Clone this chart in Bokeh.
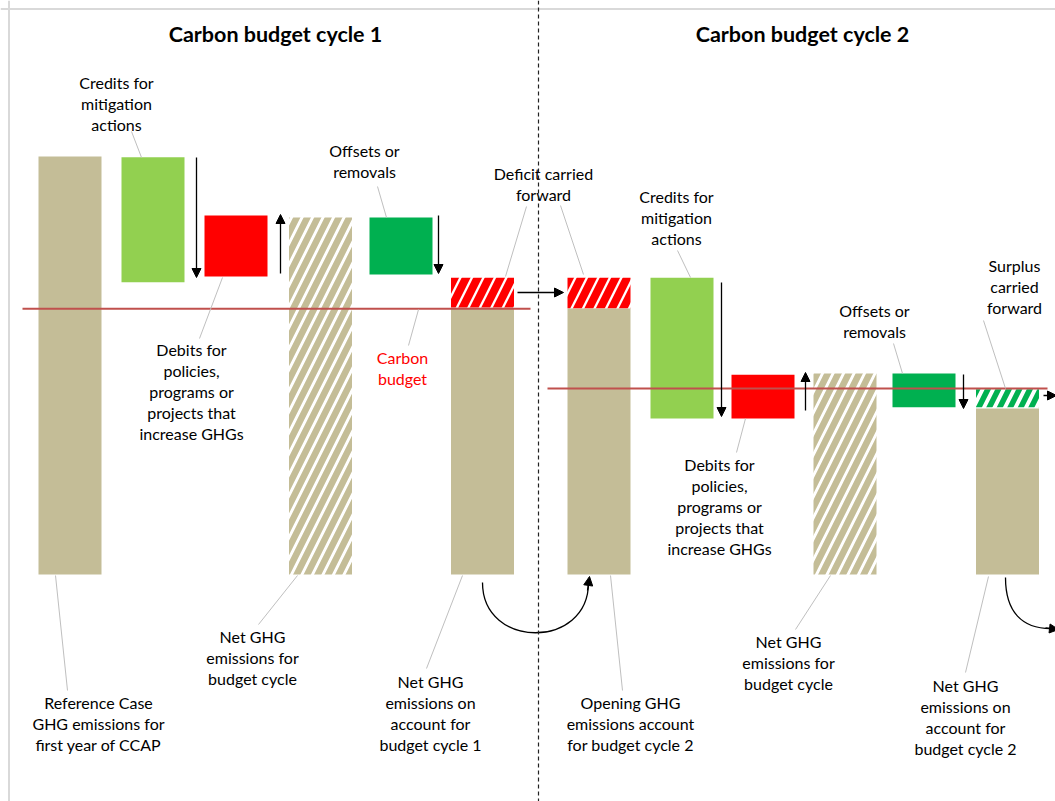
from bokeh.plotting import figure
from bokeh.models import Range1d, Span, Arrow, NormalHead
from bokeh.core.properties import value
from bokeh.embed import file_html
from bokeh.resources import INLINE

# ---------------- data (emissions index, reference case = 100) ----------------
bar_names = ["Reference Case", "Credits 1", "Debits 1", "Net GHG 1", "Offsets 1", "Account 1",
             "Opening 2", "Credits 2", "Debits 2", "Net GHG 2", "Offsets 2", "Account 2"]
bar_kinds = ["reference", "credit", "debit", "net", "offset", "account",
             "account", "credit", "debit", "net", "offset", "account"]
bar_bottoms = [0.0, 69.9, 71.3, 0.0, 71.8, 0.0, 0.0, 37.3, 37.3, 0.0, 40.0, 0.0]
bar_tops = [100.0, 99.8, 85.9, 85.4, 85.4, 63.9, 63.7, 71.0, 47.8, 48.1, 48.1, 39.7]

carry_names = ["Deficit carried (cycle 1)", "Deficit carried (cycle 2)", "Surplus carried (cycle 2)"]
carry_slots = [5, 6, 11]
carry_kinds = ["deficit", "deficit", "surplus"]
carry_bottoms = [63.9, 63.7, 40.0]
carry_tops = [71.0, 71.0, 44.3]

budget_values = [63.6, 44.5]
cycle_titles = ["Carbon budget cycle 1", "Carbon budget cycle 2"]

label_texts = [
    ["Credits for", "mitigation", "actions"],
    ["Offsets or", "removals"],
    ["Deficit carried", "forward"],
    ["Credits for", "mitigation", "actions"],
    ["Surplus", "carried", "forward"],
    ["Offsets or", "removals"],
    ["Debits for", "policies,", "programs or", "projects that", "increase GHGs"],
    ["Carbon", "budget"],
    ["Debits for", "policies,", "programs or", "projects that", "increase GHGs"],
    ["Net GHG", "emissions for", "budget cycle"],
    ["Net GHG", "emissions for", "budget cycle"],
    ["Net GHG", "emissions on", "account for", "budget cycle 1"],
    ["Reference Case", "GHG emissions for", "first year of CCAP"],
    ["Opening GHG", "emissions account", "for budget cycle 2"],
    ["Net GHG", "emissions on", "account for", "budget cycle 2"],
]

# ---------------- layout ----------------
PX_PER_UNIT = 4.18
BASE_PX = 574.0
W, H = 1055, 801


def Y(py):
    """page-pixel row -> value units (layout helper for annotations)"""
    return (BASE_PX - py) / PX_PER_UNIT


slot_x = [69.5, 152.5, 235.5, 320, 400.5, 482, 598.5, 681.5, 762.5, 844.5, 923.5, 1007]
BAR_W = 63

label_pos = [(116, 82), (364, 150), (543, 173), (676, 196), (1014, 265), (874, 310),
             (191, 349), (402, 357), (719, 464), (252, 636), (788, 641), (430, 681),
             (98, 702), (630, 702), (965, 685)]
label_colors = ["#000000"] * 7 + ["#FF0000"] + ["#000000"] * 7
LINE_H = 21

leaders = [(131, 131, 141, 157), (222, 277, 199, 338), (377, 186, 386, 217),
           (526, 206, 505, 276), (560, 205, 583, 274), (418, 309, 408, 345),
           (297, 575, 258, 624), (55, 575, 67, 690), (462, 575, 426, 668),
           (610, 575, 622, 690), (677, 250, 690, 277), (745, 418, 736, 452),
           (830, 575, 795, 629), (893, 343, 902, 373), (983, 320, 1005, 388),
           (988, 576, 965, 672)]

arrows = [(196, 157, 196, 277), (280, 273, 280, 214), (438, 215, 438, 273),
          (517, 292, 563, 292), (721, 282, 721, 416), (805, 410, 805, 372),
          (963, 374, 963, 408), (1043, 395, 1056, 395)]

budget_extent = [(22, 530), (547, 1047)]
title_x = [275, 802]

FILL = {"reference": "#C4BD97", "account": "#C4BD97", "credit": "#92D050",
        "debit": "#FF0000", "offset": "#00B050"}
HATCH = {"net": ("#C4BD97", 21, 6.5), "deficit": ("#FF0000", 23, 8), "surplus": ("#00B050", 21, 5.5)}
FONT = "Lato"

p = figure(width=W, height=H, output_backend="svg", toolbar_location=None,
           x_range=Range1d(0, W), y_range=Range1d(Y(H), Y(0)),
           min_border=0, min_border_left=0, min_border_right=0,
           min_border_top=0, min_border_bottom=0)
p.axis.visible = False
p.grid.visible = False
p.outline_line_color = None
p.background_fill_color = "white"
p.border_fill_color = "white"

# frame border (left & top)
p.add_layout(Span(location=8.5, dimension="height", line_color="#d9d9d9", line_width=2))
p.add_layout(Span(location=Y(8.5), dimension="width", line_color="#d9d9d9", line_width=2))
# cycle divider
p.add_layout(Span(location=538, dimension="height", line_color="#222222", line_width=1.2,
                  line_dash="4 3"))

# solid bars
for kind, col in FILL.items():
    idx = [i for i, k in enumerate(bar_kinds) if k == kind]
    if not idx:
        continue
    p.vbar(x=[slot_x[i] for i in idx], width=BAR_W,
           bottom=[bar_bottoms[i] for i in idx], top=[bar_tops[i] for i in idx],
           fill_color=col, line_color=None)

# hatched net bars
idx = [i for i, k in enumerate(bar_kinds) if k == "net"]
hc, hs, hw = HATCH["net"]
p.vbar(x=[slot_x[i] for i in idx], width=BAR_W,
       bottom=[bar_bottoms[i] for i in idx], top=[bar_tops[i] for i in idx],
       fill_color="white", line_color=None, hatch_pattern="right_diagonal_line",
       hatch_color=hc, hatch_scale=hs, hatch_weight=hw)

# carried-forward hatched boxes
for j, kind in enumerate(carry_kinds):
    hc, hs, hw = HATCH[kind]
    p.vbar(x=[slot_x[carry_slots[j]]], width=BAR_W, bottom=[carry_bottoms[j]],
           top=[carry_tops[j]], fill_color="white", line_color=None,
           hatch_pattern="right_diagonal_line", hatch_color=hc, hatch_scale=hs,
           hatch_weight=hw)

# carbon budget lines
p.segment(x0=[e[0] for e in budget_extent], x1=[e[1] for e in budget_extent],
          y0=budget_values, y1=budget_values, line_color="#C0504D", line_width=2)

# leader lines
p.segment(x0=[l[0] for l in leaders], y0=[Y(l[1]) for l in leaders],
          x1=[l[2] for l in leaders], y1=[Y(l[3]) for l in leaders],
          line_color="#BFBFBF", line_width=1)

# straight arrows
for (xa, ya, xb, yb) in arrows:
    p.add_layout(Arrow(x_start=xa, y_start=Y(ya), x_end=xb, y_end=Y(yb),
                       line_color="black", line_width=1.3,
                       end=NormalHead(size=9, fill_color="black", line_color="black",
                                      line_width=1)))

# curved carry-over arrows
p.bezier(x0=[482, 1005], y0=[Y(582), Y(577)], x1=[588, 1050], y1=[Y(582), Y(628)],
         cx0=[482, 1005], cy0=[Y(649), Y(612)], cx1=[588, 1022], cy1=[Y(649), Y(628)],
         line_color="black", line_width=1.3)
p.add_layout(Arrow(x_start=587, y_start=Y(590), x_end=589, y_end=Y(576),
                   line_color="black", line_width=1.3,
                   end=NormalHead(size=9, fill_color="black", line_color="black", line_width=1)))
p.add_layout(Arrow(x_start=1045, y_start=Y(627.5), x_end=1058, y_end=Y(629),
                   line_color="black", line_width=1.3,
                   end=NormalHead(size=9, fill_color="black", line_color="black", line_width=1)))

# titles
p.text(x=title_x, y=[Y(33)] * 2, text=cycle_titles, text_align="center",
       text_baseline="middle", text_font=value(FONT), text_font_size="21.5px",
       text_font_style="bold", text_color="#000000")

# labels
tx, ty, tt, tc = [], [], [], []
for lines, (cx, cy), col in zip(label_texts, label_pos, label_colors):
    for k, line in enumerate(lines):
        tx.append(cx)
        ty.append(Y(cy + k * LINE_H))
        tt.append(line)
        tc.append(col)
p.text(x=tx, y=ty, text=tt, text_color=tc, text_align="center", text_baseline="middle",
       text_font=value(FONT), text_font_size="16px")

open("out.html", "w").write(file_html(p, INLINE))
